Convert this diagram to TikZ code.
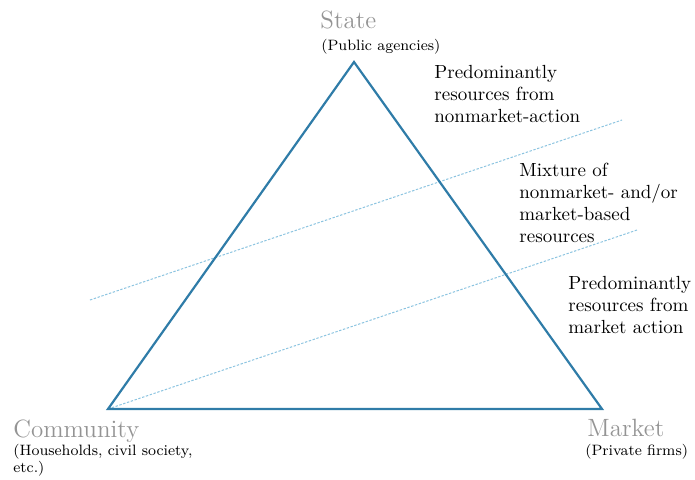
\documentclass[tikz,border=0pt]{standalone}
\begin{document}
\begin{tikzpicture}[x=0.5pt,y=-0.5pt]
    \definecolor{edgeblue}{HTML}{2F7CA8}
    \definecolor{divideblue}{HTML}{8CC4E0}
    \tikzstyle{title}=[anchor=base west, inner sep=0pt, color=black!42, font=\fontsize{12.5}{14}\selectfont]
    \tikzstyle{subtitle}=[anchor=base west, inner sep=0pt, align=left, font=\fontsize{7.5}{8.5}\selectfont]
    \tikzstyle{zone}=[anchor=base west, inner sep=0pt, align=left, font=\fontsize{9.5}{11}\selectfont]
    \tikzstyle{edge}=[draw=edgeblue, line width=1.1pt, line join=miter]
    \tikzstyle{divide}=[draw=divideblue, line width=0.5pt, densely dashed, dash pattern=on 1.2pt off 0.8pt]

    \useasboundingbox (0,0) rectangle (695,479);

    % corners of the triangle
    \coordinate (state) at (354,62);
    \coordinate (community) at (108,409);
    \coordinate (market) at (602,409);
    % ends of the dividing lines
    \coordinate (upper-a) at (90,300);
    \coordinate (upper-b) at (622,120);
    \coordinate (lower-b) at (637,230);

    \draw [divide] (upper-a) -- (upper-b);
    \draw [divide] (community) -- (lower-b);
    \draw [edge] (state) -- (community) -- (market) -- cycle;

    % labels, placed by the baseline of their last line
    \node[title] (state-t) at (320,28) {State};
    \node[subtitle] (state-s) at (321,50) {(Public agencies)};
    \node[title] (community-t) at (13,437) {Community};
    \node[subtitle] (community-s) at (13,472) {(Households, civil society,\\etc.)};
    \node[title] (market-t) at (587,436) {Market};
    \node[subtitle] (market-s) at (585,455) {(Private firms)};

    \node[zone] (nonmarket) at (434,122) {Predominantly\\resources from\\nonmarket-action};
    \node[zone] (mixture) at (519,242) {Mixture of\\nonmarket- and/or\\market-based\\resources};
    \node[zone] (marketaction) at (568,333) {Predominantly\\resources from\\market action};
\end{tikzpicture}
\end{document}
